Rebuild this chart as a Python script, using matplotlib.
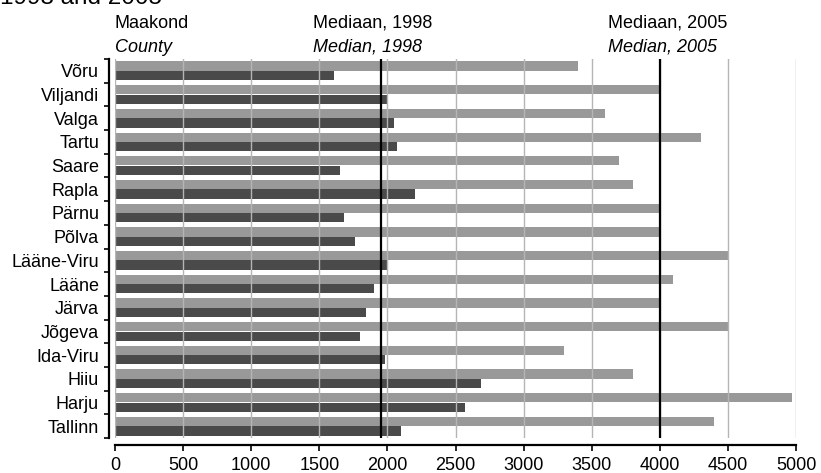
import matplotlib

matplotlib.use("Agg")
import matplotlib.pyplot as plt
import numpy as np

counties = ["Võru", "Viljandi", "Valga", "Tartu", "Saare", "Rapla", "Pärnu", "Põlva",
            "Lääne-Viru", "Lääne", "Järva", "Jõgeva", "Ida-Viru", "Hiiu", "Harju", "Tallinn"]
values_2005 = [3400, 4000, 3600, 4300, 3700, 3800, 4000, 4000,
               4500, 4100, 4000, 4500, 3300, 3800, 4970, 4400]
values_1998 = [1610, 2000, 2050, 2070, 1650, 2200, 1680, 1760,
               2000, 1900, 1840, 1800, 1980, 2690, 2570, 2100]
median_1998 = 1950
median_2005 = 4000
x_ticks = list(range(0, 5001, 500))

plt.rcParams["font.family"] = ["Liberation Sans", "DejaVu Sans"]
plt.rcParams["font.size"] = 13

W, H = 821, 473
fig = plt.figure(figsize=(W / 100, H / 100), dpi=100)
ax = fig.add_axes([115 / W, 1 - 438 / H, (796 - 115) / W, (438 - 59) / H])

n = len(counties)
pos = np.arange(n)[::-1]
ax.barh(pos + 0.2, values_2005, height=0.39, color="#999999", zorder=1)
ax.barh(pos - 0.2, values_1998, height=0.39, color="#4a4a4a", zorder=1)

ax.set_xlim(0, 5000)
ax.set_ylim(-0.5, n - 0.5)
ax.set_xticks(x_ticks)
ax.set_xticklabels([str(t) for t in x_ticks])
ax.grid(axis="x", color="#b5b5b5", linewidth=1.0, zorder=2)
ax.set_axisbelow(False)

ax.axvline(median_1998, color="black", linewidth=1.6, zorder=3)
ax.axvline(median_2005, color="black", linewidth=1.6, zorder=3)

ax.set_yticks(pos)
ax.set_yticklabels(counties)
ax.set_yticks(np.arange(-0.5, n, 1.0), minor=True)
ax.tick_params(axis="y", which="major", length=0, pad=7)
ax.tick_params(axis="y", which="minor", length=3.5, width=1.2, direction="out")
ax.tick_params(axis="x", length=4, width=1.2, direction="out", pad=5)

for side in ("top", "right"):
    ax.spines[side].set_visible(False)
ax.spines["left"].set_position(("outward", 4.5))
ax.spines["bottom"].set_position(("outward", 5))
ax.spines["left"].set_linewidth(1.6)
ax.spines["bottom"].set_linewidth(1.6)

fig.text(0, 1 - 3.5 / H, "1998 and 2005", fontsize=17.5, va="baseline", ha="left")
fig.text(115 / W, 1 - 28 / H, "Maakond", va="baseline")
fig.text(115 / W, 1 - 52 / H, "County", va="baseline", style="italic")
fig.text(313 / W, 1 - 28 / H, "Mediaan, 1998", va="baseline")
fig.text(313 / W, 1 - 52 / H, "Median, 1998", va="baseline", style="italic")
fig.text(608 / W, 1 - 28 / H, "Mediaan, 2005", va="baseline")
fig.text(608 / W, 1 - 52 / H, "Median, 2005", va="baseline", style="italic")

fig.savefig("out.png", dpi=100)
plt.close(fig)
